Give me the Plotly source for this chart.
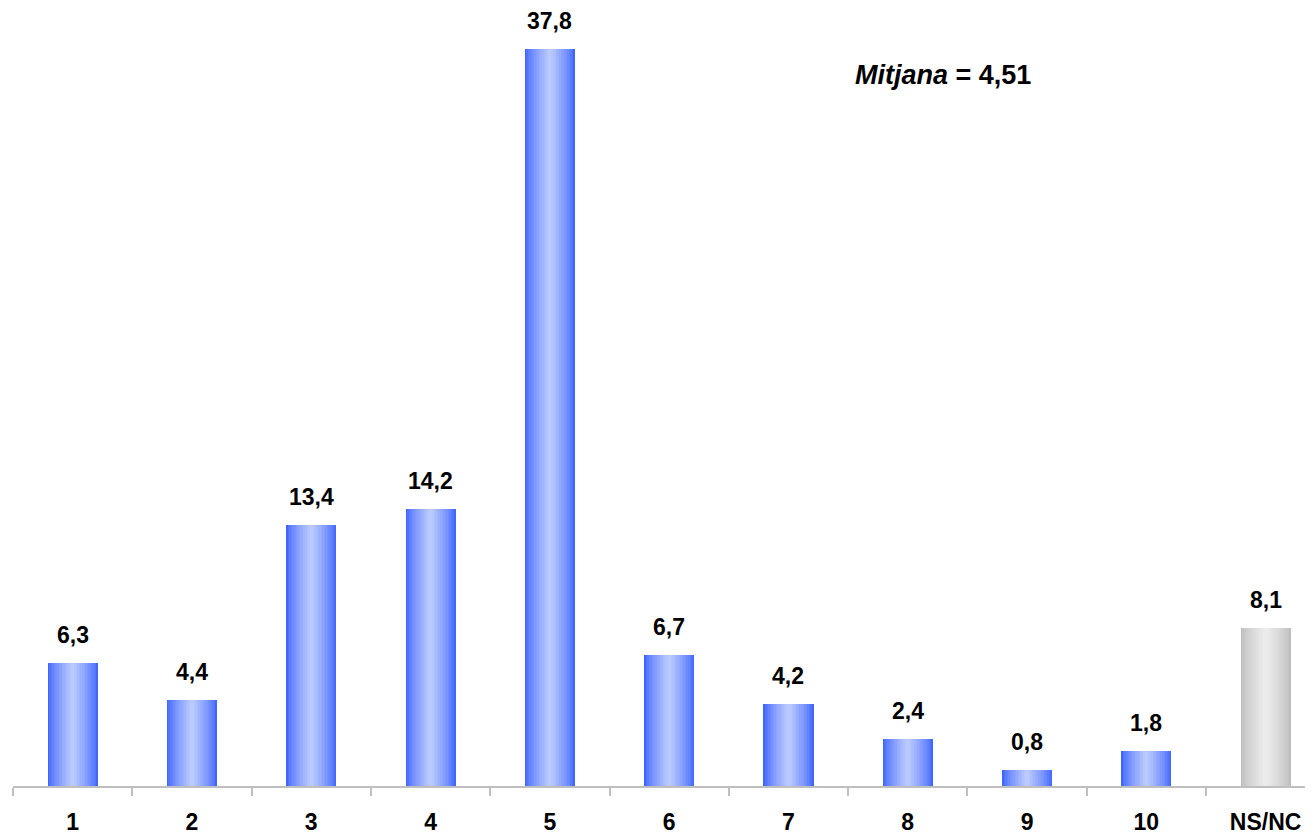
import plotly.graph_objects as go

categories = ["1", "2", "3", "4", "5", "6", "7", "8", "9", "10", "NS/NC"]
values = [6.3, 4.4, 13.4, 14.2, 37.8, 6.7, 4.2, 2.4, 0.8, 1.8, 8.1]
value_labels = ["6,3", "4,4", "13,4", "14,2", "37,8", "6,7", "4,2", "2,4", "0,8", "1,8", "8,1"]
mean_label = "4,51"

BAR_W = 0.42
N_LAYERS = 16

blue_edge = (64, 102, 255)
blue_mid = (186, 202, 255)
gray_edge = (190, 190, 190)
gray_mid = (236, 236, 236)

FONT = "Liberation Sans, Arial"

# page body has an 8px margin: compensate so the plot lands where the reference has it
ML, MT, MB = 5, 2, 57
PLOT_W = 1313 - ML
PLOT_H = 835 - MT - MB


def mix(a, b, t):
    return "rgb(%d,%d,%d)" % tuple(round(a[k] + (b[k] - a[k]) * t) for k in range(3))


fig = go.Figure()
for i in range(N_LAYERS):
    t = i / (N_LAYERS - 1)
    w = BAR_W * (1 - i / N_LAYERS)
    tc = t ** 0.75
    colors = [mix(gray_edge, gray_mid, tc) if c == "NS/NC" else mix(blue_edge, blue_mid, tc)
              for c in categories]
    fig.add_trace(go.Bar(
        x=categories, y=values, width=[w] * len(categories),
        marker=dict(color=colors, line=dict(width=0)),
        hoverinfo="skip" if i else "y", showlegend=False,
    ))

for idx, (v, lab) in enumerate(zip(values, value_labels)):
    fig.add_annotation(x=idx, y=v, text=lab, showarrow=False, yanchor="bottom",
                       yshift=13, font=dict(family=FONT, size=23, color="black", weight="bold"))

fig.add_annotation(xref="paper", yref="paper",
                   x=(935 - ML) / PLOT_W, y=(MT + PLOT_H - 67) / PLOT_H,
                   text="<i>Mitjana</i> = " + mean_label, showarrow=False,
                   xanchor="center", yanchor="middle",
                   font=dict(family=FONT, size=27, color="black", weight="bold"))

fig.update_layout(
    width=1313, height=835,
    margin=dict(l=ML, r=0, t=MT, b=MB),
    paper_bgcolor="white", plot_bgcolor="white",
    barmode="overlay", bargap=0,
    font=dict(family=FONT, size=23, color="black"),
)
fig.update_xaxes(
    type="category", range=[-0.5, -0.5 + PLOT_W / 119.3], tickson="boundaries",
    automargin=False,
    showline=True, linecolor="#bfbfbf", linewidth=1.5,
    ticks="outside", ticklen=8, tickcolor="#bfbfbf", tickwidth=1.5,
    showgrid=False, zeroline=False,
    tickfont=dict(family=FONT, size=23, color="black", weight="bold"),
    ticklabelstandoff=15,
)
fig.update_yaxes(range=[0, PLOT_H / 19.5], visible=False, showgrid=False, zeroline=False,
                 automargin=False)

fig.write_html("out.html")
